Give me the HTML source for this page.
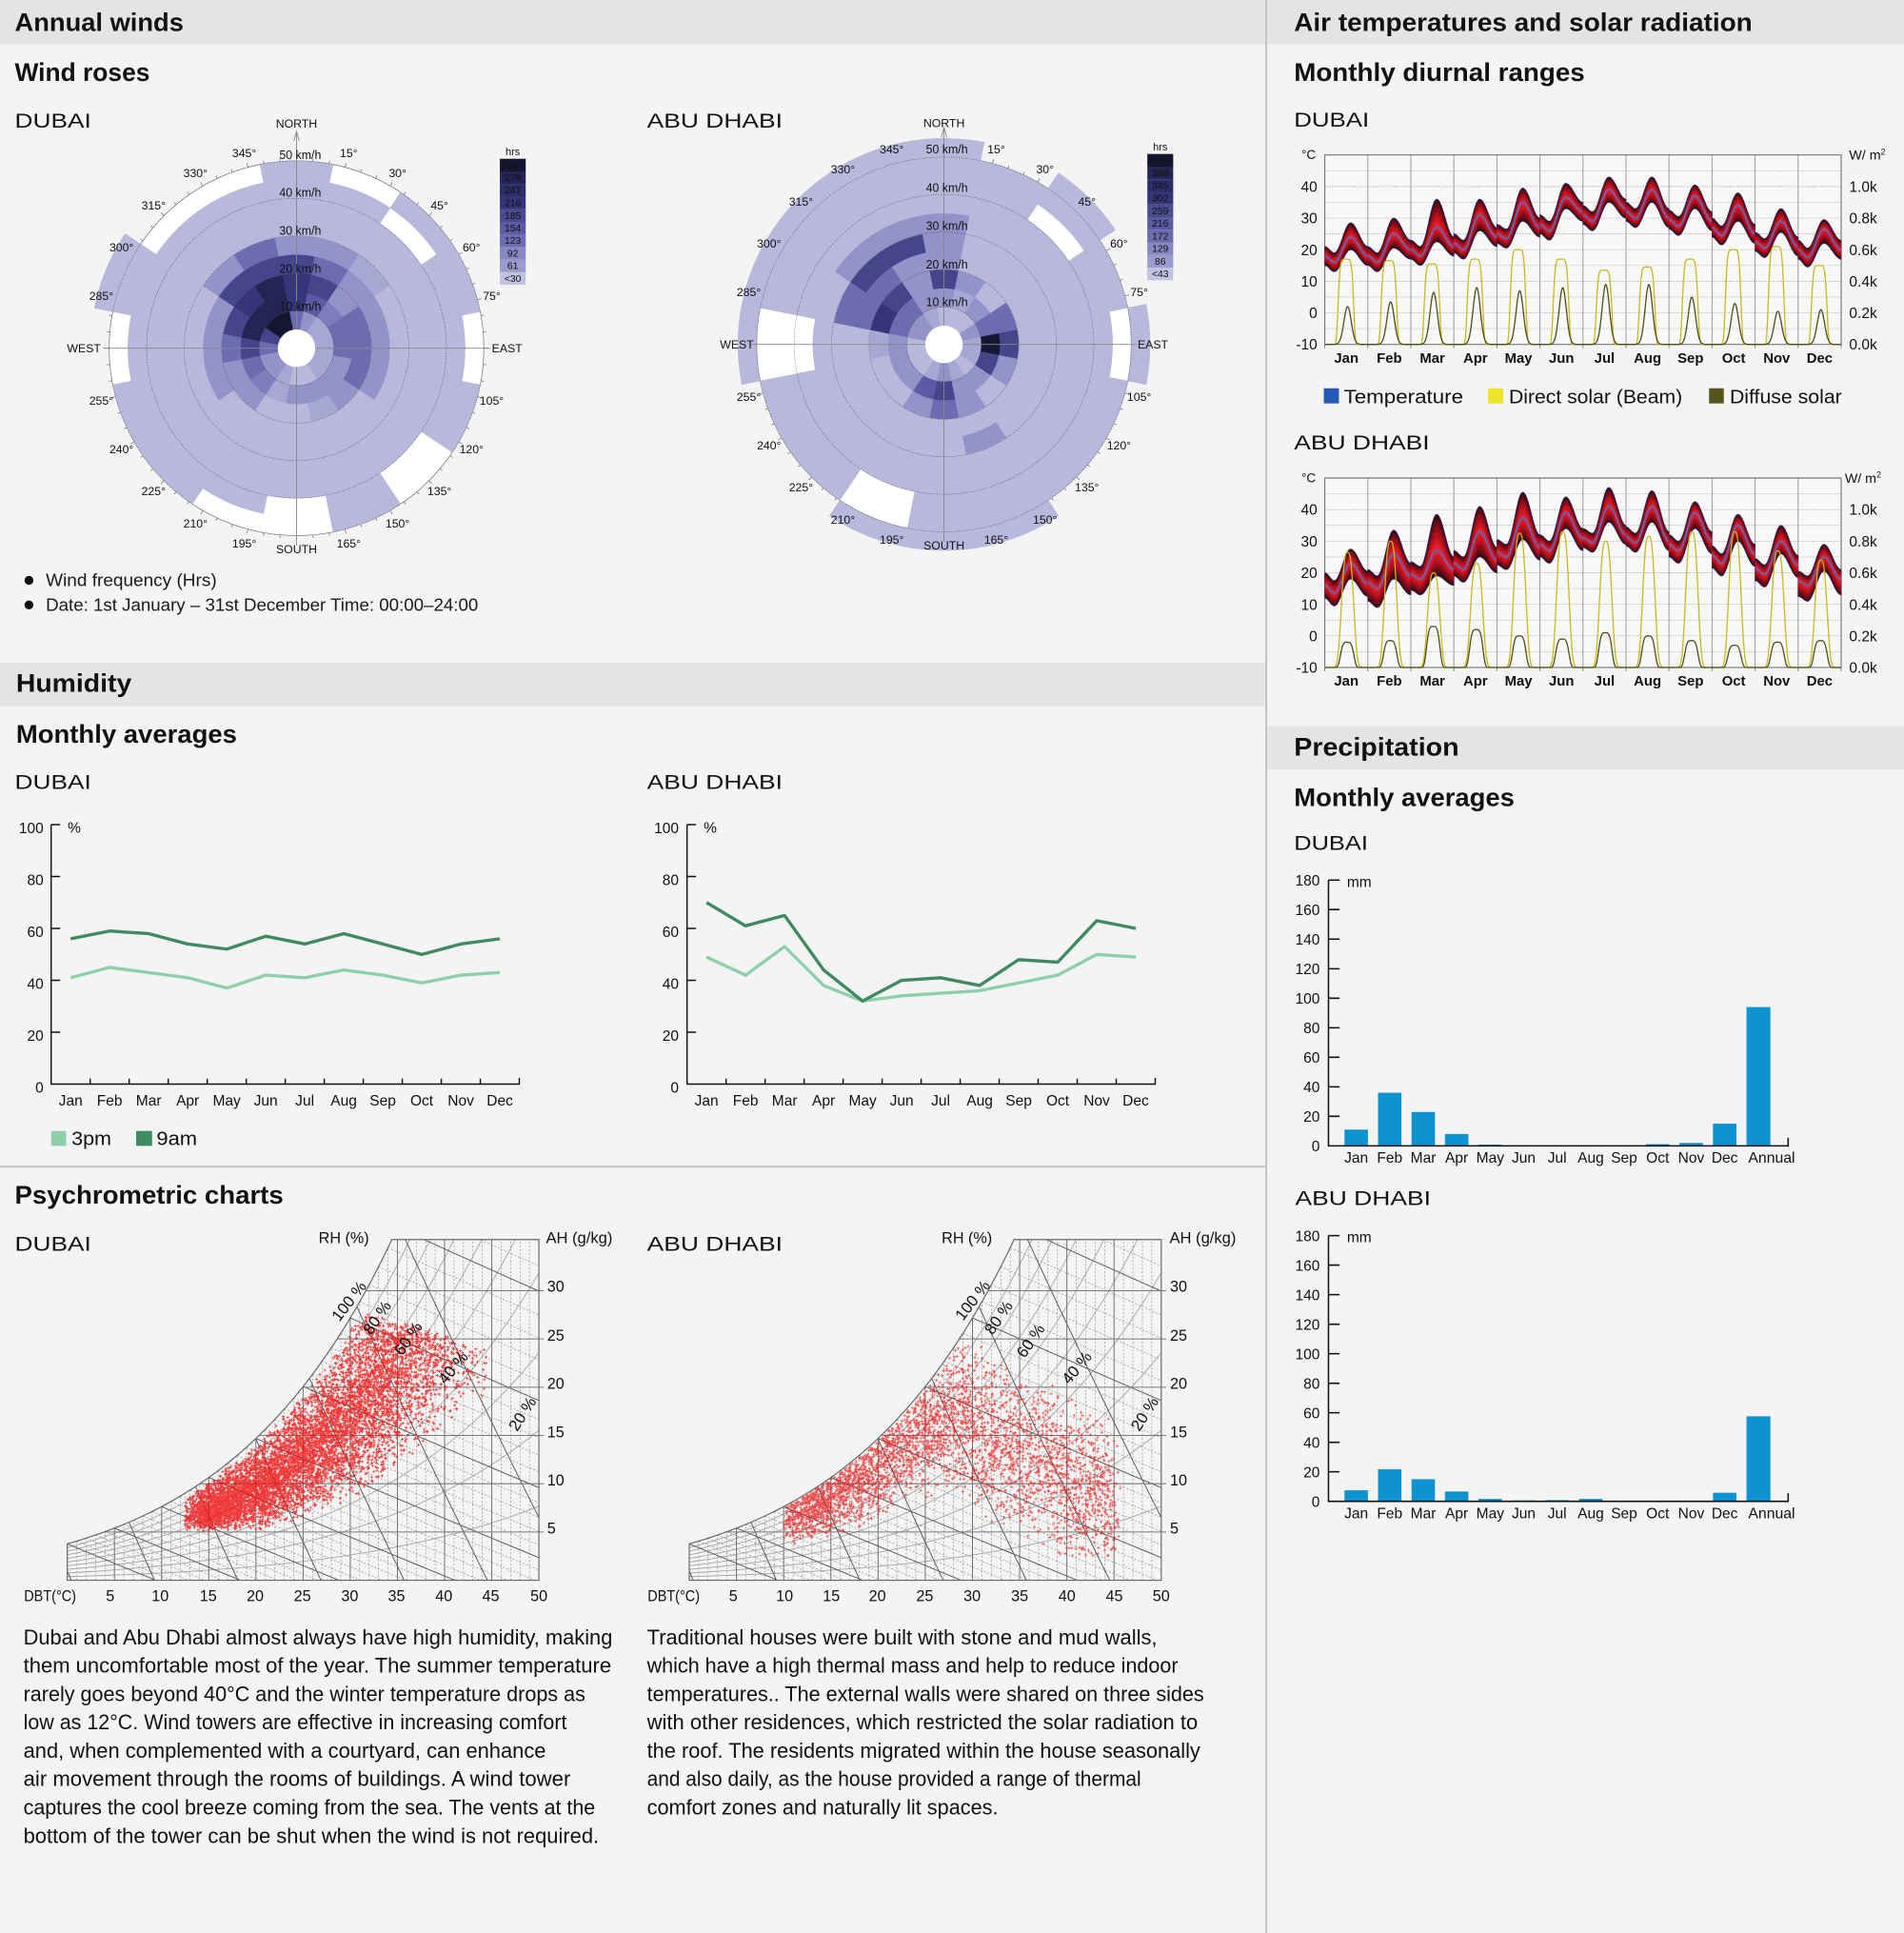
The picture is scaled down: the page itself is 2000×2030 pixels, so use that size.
<!DOCTYPE html>
<html><head><meta charset="utf-8"><title>Climate data</title>
<style>
html,body{margin:0;padding:0;background:#f4f4f4;}
svg{display:block;}
text{font-family:"Liberation Sans",Arial,sans-serif;fill:#111;}
.h1{font-size:20.5px;font-weight:bold;}
.h2{font-size:16.5px;}
.b{font-size:14px;fill:#1a1a1a;}
.p{font-size:17px;fill:#1a1a1a;}
.rl{font-size:9.5px;fill:#222;}
.km{font-size:10px;fill:#111;}
.lg{font-size:8px;fill:#fff;}
.ax{font-size:12px;fill:#111;}
.axb{font-size:11.5px;font-weight:bold;fill:#111;}
.lt{font-size:16px;fill:#111;}
.ps{font-size:12.5px;fill:#111;}
</style></head>
<body>
<svg id="s" xmlns="http://www.w3.org/2000/svg" width="2000" height="2030" viewBox="0 0 1545 1568.17" preserveAspectRatio="none">
<rect x="0" y="0" width="1545" height="1569" fill="#f4f4f4"/>
<rect x="0" y="0" width="1026.5" height="36" fill="#e4e4e2"/>
<rect x="1028.5" y="0" width="517" height="36" fill="#e4e4e2"/>
<rect x="0" y="537.7" width="1026.5" height="35.3" fill="#e4e4e2"/>
<rect x="1028.5" y="589" width="517" height="35" fill="#e4e4e2"/>
<path d="M1027.5,0V1569M0,946.5H1027" stroke="#c2c2c2" stroke-width="1.6" fill="none"/>

<!-- wind roses -->
<g id="r1" transform="translate(240.6,282.5)"></g>
<g id="r2" transform="translate(766,279.4)"></g>

<g transform="translate(240.6,282.5)" class="rl" text-anchor="middle">
<text x="0" y="-178.8">NORTH</text>
<text x="0" y="166.5">SOUTH</text>
<text x="-158.8" y="3.4" text-anchor="end">WEST</text>
<text x="158.5" y="3.4" text-anchor="start">EAST</text>
<text x="42.4" y="-155.1">15°</text><text x="82" y="-138.7">30°</text><text x="116" y="-112.7">45°</text><text x="142" y="-78.7">60°</text><text x="158.4" y="-39.1">75°</text>
<text x="158.4" y="45.7">105°</text><text x="142" y="85.3">120°</text><text x="116" y="119.3">135°</text><text x="82" y="145.3">150°</text><text x="42.4" y="161.7">165°</text>
<text x="-42.4" y="161.7">195°</text><text x="-82" y="145.3">210°</text><text x="-116" y="119.3">225°</text><text x="-142" y="85.3">240°</text><text x="-158.4" y="45.7">255°</text>
<text x="-158.4" y="-39.1">285°</text><text x="-142" y="-78.7">300°</text><text x="-116" y="-112.7">315°</text><text x="-82" y="-138.7">330°</text><text x="-42.4" y="-155.1">345°</text>
<g class="km"><text x="3" y="-153.5" textLength="34" lengthAdjust="spacingAndGlyphs">50 km/h</text><text x="3" y="-123" textLength="34" lengthAdjust="spacingAndGlyphs">40 km/h</text><text x="3" y="-92" textLength="34" lengthAdjust="spacingAndGlyphs">30 km/h</text><text x="3" y="-61" textLength="34" lengthAdjust="spacingAndGlyphs">20 km/h</text><text x="3" y="-30.5" textLength="34" lengthAdjust="spacingAndGlyphs">10 km/h</text></g>
</g>

<g transform="translate(766,279.4)" class="rl" text-anchor="middle">
<text x="0" y="-176.1">NORTH</text>
<text x="0" y="166.5">SOUTH</text>
<text x="-154.4" y="3.4" text-anchor="end">WEST</text>
<text x="157.1" y="3.4" text-anchor="start">EAST</text>
<text x="42.4" y="-155.1">15°</text><text x="82" y="-138.7">30°</text><text x="116" y="-112.7">45°</text><text x="142" y="-78.7">60°</text><text x="158.4" y="-39.1">75°</text>
<text x="158.4" y="45.7">105°</text><text x="142" y="85.3">120°</text><text x="116" y="119.3">135°</text><text x="82" y="145.3">150°</text><text x="42.4" y="161.7">165°</text>
<text x="-42.4" y="161.7">195°</text><text x="-82" y="145.3">210°</text><text x="-116" y="119.3">225°</text><text x="-142" y="85.3">240°</text><text x="-158.4" y="45.7">255°</text>
<text x="-158.4" y="-39.1">285°</text><text x="-142" y="-78.7">300°</text><text x="-116" y="-112.7">315°</text><text x="-82" y="-138.7">330°</text><text x="-42.4" y="-155.1">345°</text>
<g class="km"><text x="2.3" y="-154.9" textLength="34" lengthAdjust="spacingAndGlyphs">50 km/h</text><text x="2.3" y="-123.9" textLength="34" lengthAdjust="spacingAndGlyphs">40 km/h</text><text x="2.3" y="-92.8" textLength="34" lengthAdjust="spacingAndGlyphs">30 km/h</text><text x="2.3" y="-61.6" textLength="34" lengthAdjust="spacingAndGlyphs">20 km/h</text><text x="2.3" y="-30.9" textLength="34" lengthAdjust="spacingAndGlyphs">10 km/h</text></g>
</g>

<!-- rose legends -->
<g>
<text x="416.1" y="126" font-size="8.5" text-anchor="middle">hrs</text>
<rect x="405.6" y="128.8" width="21" height="10.3" fill="#161633"/>
<rect x="405.6" y="139" width="21" height="10.3" fill="#252555"/>
<rect x="405.6" y="149.2" width="21" height="10.3" fill="#2d2d6a"/>
<rect x="405.6" y="159.5" width="21" height="10.3" fill="#35357a"/>
<rect x="405.6" y="169.7" width="21" height="10.3" fill="#4a4a8e"/>
<rect x="405.6" y="179.9" width="21" height="10.3" fill="#5b5ba3"/>
<rect x="405.6" y="190.1" width="21" height="10.3" fill="#6c6cb0"/>
<rect x="405.6" y="200.4" width="21" height="10.3" fill="#8787c2"/>
<rect x="405.6" y="210.6" width="21" height="10.3" fill="#9a9acc"/>
<rect x="405.6" y="220.8" width="21" height="10.2" fill="#c2c2e2"/>
<g class="lg" text-anchor="middle">
<text x="416.1" y="136.6">309+</text><text x="416.1" y="146.8">278</text><text x="416.1" y="157">247</text><text x="416.1" y="167.3">216</text><text x="416.1" y="177.5">185</text><text x="416.1" y="187.7">154</text><text x="416.1" y="197.9">123</text><text x="416.1" y="208.2">92</text><text x="416.1" y="218.4">61</text><text x="416.1" y="228.6">&lt;30</text>
</g>
<text x="941.5" y="122" font-size="8.5" text-anchor="middle">hrs</text>
<rect x="931" y="124.9" width="21" height="10.3" fill="#161633"/>
<rect x="931" y="135.1" width="21" height="10.3" fill="#252555"/>
<rect x="931" y="145.4" width="21" height="10.3" fill="#2d2d6a"/>
<rect x="931" y="155.6" width="21" height="10.3" fill="#35357a"/>
<rect x="931" y="165.9" width="21" height="10.3" fill="#4a4a8e"/>
<rect x="931" y="176.1" width="21" height="10.3" fill="#5b5ba3"/>
<rect x="931" y="186.4" width="21" height="10.3" fill="#6c6cb0"/>
<rect x="931" y="196.6" width="21" height="10.3" fill="#8787c2"/>
<rect x="931" y="206.9" width="21" height="10.3" fill="#9a9acc"/>
<rect x="931" y="217.1" width="21" height="10.3" fill="#c2c2e2"/>
<g class="lg" text-anchor="middle">
<text x="941.5" y="132.7">432+</text><text x="941.5" y="142.9">388</text><text x="941.5" y="153.2">345</text><text x="941.5" y="163.4">302</text><text x="941.5" y="173.7">259</text><text x="941.5" y="183.9">216</text><text x="941.5" y="194.2">172</text><text x="941.5" y="204.4">129</text><text x="941.5" y="214.7">86</text><text x="941.5" y="224.9">&lt;43</text>
</g>
</g>

<!-- bullets -->
<circle cx="23.5" cy="470.8" r="3.6" fill="#111"/>
<circle cx="23.5" cy="490.8" r="3.6" fill="#111"/>
<text x="37.2" y="475.3" class="b" textLength="138.7" lengthAdjust="spacingAndGlyphs">Wind frequency (Hrs)</text>
<text x="37.2" y="495.5" class="b" textLength="350.8" lengthAdjust="spacingAndGlyphs">Date: 1st January – 31st December Time: 00:00–24:00</text>

<!-- humidity charts -->
<g fill="none" stroke-linejoin="round">
<polyline points="57.33,793.2 88.99,784.8 120.65,789.0 152.31,793.2 183.97,801.6 215.63,791.1 247.29,793.2 278.95,786.9 310.61,791.1 342.27,797.4 373.93,791.1 405.59,789.0" stroke="#8dd0ab" stroke-width="2.6"/>
<polyline points="57.33,761.6 88.99,755.3 120.65,757.4 152.31,765.8 183.97,770.0 215.63,759.5 247.29,765.8 278.95,757.4 310.61,765.8 342.27,774.3 373.93,765.8 405.59,761.6" stroke="#3f8a60" stroke-width="2.6"/>
<polyline points="573.33,776.4 604.99,791.1 636.65,767.9 668.31,799.5 699.97,812.1 731.63,807.9 763.29,805.8 794.95,803.7 826.61,797.4 858.27,791.1 889.93,774.3 921.59,776.4" stroke="#8dd0ab" stroke-width="2.6"/>
<polyline points="573.33,732.2 604.99,751.1 636.65,742.7 668.31,786.9 699.97,812.1 731.63,795.3 763.29,793.2 794.95,799.5 826.61,778.5 858.27,780.6 889.93,746.9 921.59,753.2" stroke="#3f8a60" stroke-width="2.6"/>
<path d="M41.5,669V879.5H421.4V874.5M41.5,669h7.3M41.5,711.1h7.3M41.5,753.2h7.3M41.5,795.3h7.3M41.5,837.4h7.3M73.16,879.5v-4.5M104.82,879.5v-4.5M136.48,879.5v-4.5M168.14,879.5v-4.5M199.8,879.5v-4.5M231.46,879.5v-4.5M263.12,879.5v-4.5M294.78,879.5v-4.5M326.44,879.5v-4.5M358.1,879.5v-4.5M389.76,879.5v-4.5" stroke="#111" stroke-width="1.1"/>
<path d="M557.5,669V879.5H937.4V874.5M557.5,669h7.3M557.5,711.1h7.3M557.5,753.2h7.3M557.5,795.3h7.3M557.5,837.4h7.3M589.16,879.5v-4.5M620.82,879.5v-4.5M652.48,879.5v-4.5M684.14,879.5v-4.5M715.8,879.5v-4.5M747.46,879.5v-4.5M779.12,879.5v-4.5M810.78,879.5v-4.5M842.44,879.5v-4.5M874.1,879.5v-4.5M905.76,879.5v-4.5" stroke="#111" stroke-width="1.1"/>
</g>
<g class="ax" text-anchor="end">
<text x="35.4" y="676">100</text><text x="35.4" y="718.1">80</text><text x="35.4" y="760.2">60</text><text x="35.4" y="802.3">40</text><text x="35.4" y="844.4">20</text><text x="35.4" y="886.5">0</text>
<text x="550.8" y="676">100</text><text x="550.8" y="718.1">80</text><text x="550.8" y="760.2">60</text><text x="550.8" y="802.3">40</text><text x="550.8" y="844.4">20</text><text x="550.8" y="886.5">0</text>
</g>
<text x="55" y="675.5" class="ax">%</text>
<text x="571" y="675.5" class="ax">%</text>
<g class="ax" text-anchor="middle">
<text x="57.33" y="897">Jan</text><text x="88.99" y="897">Feb</text><text x="120.65" y="897">Mar</text><text x="152.31" y="897">Apr</text><text x="183.97" y="897">May</text><text x="215.63" y="897">Jun</text><text x="247.29" y="897">Jul</text><text x="278.95" y="897">Aug</text><text x="310.61" y="897">Sep</text><text x="342.27" y="897">Oct</text><text x="373.93" y="897">Nov</text><text x="405.59" y="897">Dec</text>
<text x="573.33" y="897">Jan</text><text x="604.99" y="897">Feb</text><text x="636.65" y="897">Mar</text><text x="668.31" y="897">Apr</text><text x="699.97" y="897">May</text><text x="731.63" y="897">Jun</text><text x="763.29" y="897">Jul</text><text x="794.95" y="897">Aug</text><text x="826.61" y="897">Sep</text><text x="858.27" y="897">Oct</text><text x="889.93" y="897">Nov</text><text x="921.59" y="897">Dec</text>
</g>
<rect x="41.5" y="917.5" width="12.2" height="12.1" fill="#8dd0ab"/>
<text x="58" y="929" class="lt" textLength="32.4" lengthAdjust="spacingAndGlyphs">3pm</text>
<rect x="110.5" y="917.5" width="12.9" height="12.1" fill="#3f8a60"/>
<text x="127" y="929" class="lt" textLength="33" lengthAdjust="spacingAndGlyphs">9am</text>

<!-- psychrometric charts -->
<g id="p1"></g>
<g id="p2"></g>
<g class="ps">
<text x="279" y="1008.5" text-anchor="middle">RH (%)</text>
<text x="443" y="1008.5" textLength="54" lengthAdjust="spacingAndGlyphs">AH (g/kg)</text>
<text x="444" y="1047.9">30</text><text x="444" y="1087.6">25</text><text x="444" y="1126.8">20</text><text x="444" y="1165.9">15</text><text x="444" y="1205">10</text><text x="444" y="1244.2">5</text>
<text x="19.5" y="1298.8" textLength="42.3" lengthAdjust="spacingAndGlyphs">DBT(°C)</text>
<g text-anchor="middle"><text x="89.4" y="1298.8">5</text><text x="130" y="1298.8">10</text><text x="169" y="1298.8">15</text><text x="207" y="1298.8">20</text><text x="245.4" y="1298.8">25</text><text x="283.8" y="1298.8">30</text><text x="321.8" y="1298.8">35</text><text x="360.2" y="1298.8">40</text><text x="398.2" y="1298.8">45</text><text x="437.3" y="1298.8">50</text></g>
<g text-anchor="middle" font-size="13">
<text transform="translate(283.5,1055.8) rotate(-52)" dy="4">100 %</text>
<text transform="translate(306.3,1069.1) rotate(-55)" dy="4">80 %</text>
<text transform="translate(331.6,1086.1) rotate(-55)" dy="4">60 %</text>
<text transform="translate(368,1109.8) rotate(-50)" dy="4">40 %</text>
<text transform="translate(424.3,1147.2) rotate(-57)" dy="4">20 %</text>
</g>
<text x="784.6" y="1008.5" text-anchor="middle">RH (%)</text>
<text x="949" y="1008.5" textLength="54" lengthAdjust="spacingAndGlyphs">AH (g/kg)</text>
<text x="949.4" y="1047.9">30</text><text x="949.4" y="1087.6">25</text><text x="949.4" y="1126.8">20</text><text x="949.4" y="1165.9">15</text><text x="949.4" y="1205">10</text><text x="949.4" y="1244.2">5</text>
<text x="525.5" y="1298.8" textLength="42.3" lengthAdjust="spacingAndGlyphs">DBT(°C)</text>
<g text-anchor="middle"><text x="595" y="1298.8">5</text><text x="636.6" y="1298.8">10</text><text x="674.6" y="1298.8">15</text><text x="712" y="1298.8">20</text><text x="750.4" y="1298.8">25</text><text x="788.8" y="1298.8">30</text><text x="827.5" y="1298.8">35</text><text x="865.8" y="1298.8">40</text><text x="904.2" y="1298.8">45</text><text x="942.3" y="1298.8">50</text></g>
<g text-anchor="middle" font-size="13">
<text transform="translate(789.5,1055.2) rotate(-52)" dy="4">100 %</text>
<text transform="translate(810.6,1069.1) rotate(-55)" dy="4">80 %</text>
<text transform="translate(836.6,1087.9) rotate(-55)" dy="4">60 %</text>
<text transform="translate(874,1109.8) rotate(-50)" dy="4">40 %</text>
<text transform="translate(929.2,1147.2) rotate(-57)" dy="4">20 %</text>
</g>
</g>

<!-- temperature charts -->
<g id="t1"></g>
<g id="t2"></g>
<g class="ax" text-anchor="end">
<text x="1069" y="155.6">40</text><text x="1069" y="181.2">30</text><text x="1069" y="206.9">20</text><text x="1069" y="232.5">10</text><text x="1069" y="258.1">0</text><text x="1069" y="283.7">-10</text>
<text x="1069" y="417.7">40</text><text x="1069" y="443.3">30</text><text x="1069" y="469">20</text><text x="1069" y="494.6">10</text><text x="1069" y="520.2">0</text><text x="1069" y="545.8">-10</text>
</g>
<g class="ax">
<text x="1500.5" y="155.6">1.0k</text><text x="1500.5" y="181.2">0.8k</text><text x="1500.5" y="206.9">0.6k</text><text x="1500.5" y="232.5">0.4k</text><text x="1500.5" y="258.1">0.2k</text><text x="1500.5" y="283.7">0.0k</text>
<text x="1500.5" y="417.7">1.0k</text><text x="1500.5" y="443.3">0.8k</text><text x="1500.5" y="469">0.6k</text><text x="1500.5" y="494.6">0.4k</text><text x="1500.5" y="520.2">0.2k</text><text x="1500.5" y="545.8">0.0k</text>
<text x="1056" y="129" font-size="10.5">°C</text>
<text x="1056" y="391.1" font-size="10.5">°C</text>
<text x="1500.5" y="129.5" font-size="11">W/ m<tspan dy="-4" font-size="7">2</tspan></text>
<text x="1497" y="391.6" font-size="11">W/ m<tspan dy="-4" font-size="7">2</tspan></text>
</g>
<g class="axb" text-anchor="middle">
<text x="1092.5" y="294.2">Jan</text><text x="1127.4" y="294.2">Feb</text><text x="1162.3" y="294.2">Mar</text><text x="1197.2" y="294.2">Apr</text><text x="1232.2" y="294.2">May</text><text x="1267.1" y="294.2">Jun</text><text x="1302" y="294.2">Jul</text><text x="1336.9" y="294.2">Aug</text><text x="1371.8" y="294.2">Sep</text><text x="1406.8" y="294.2">Oct</text><text x="1441.7" y="294.2">Nov</text><text x="1476.6" y="294.2">Dec</text>
<text x="1092.5" y="556.3">Jan</text><text x="1127.4" y="556.3">Feb</text><text x="1162.3" y="556.3">Mar</text><text x="1197.2" y="556.3">Apr</text><text x="1232.2" y="556.3">May</text><text x="1267.1" y="556.3">Jun</text><text x="1302" y="556.3">Jul</text><text x="1336.9" y="556.3">Aug</text><text x="1371.8" y="556.3">Sep</text><text x="1406.8" y="556.3">Oct</text><text x="1441.7" y="556.3">Nov</text><text x="1476.6" y="556.3">Dec</text>
</g>
<rect x="1074.2" y="315" width="12.3" height="12.3" fill="#2659b5"/>
<text x="1090.4" y="327" class="lt" textLength="97" lengthAdjust="spacingAndGlyphs">Temperature</text>
<rect x="1207.4" y="315" width="12.3" height="12.3" fill="#eee42a"/>
<text x="1224.4" y="327" class="lt" textLength="140.7" lengthAdjust="spacingAndGlyphs">Direct solar (Beam)</text>
<rect x="1386.8" y="315" width="12" height="12.3" fill="#55551e"/>
<text x="1403.6" y="327" class="lt" textLength="91" lengthAdjust="spacingAndGlyphs">Diffuse solar</text>

<!-- precipitation -->
<g fill="#0e92d0">
<rect x="1091" y="916.4" width="19" height="13.2"/><rect x="1118.2" y="886.5" width="19" height="43.1"/><rect x="1145.4" y="902.1" width="19" height="27.5"/><rect x="1172.5" y="920" width="19" height="9.6"/><rect x="1199.7" y="928.6" width="19" height="1"/><rect x="1335.6" y="928.2" width="19" height="1.4"/><rect x="1362.8" y="927.2" width="19" height="2.4"/><rect x="1390" y="911.6" width="19" height="18"/><rect x="1417.2" y="817" width="19.4" height="112.6"/>
<rect x="1091" y="1209" width="19" height="9"/><rect x="1118.2" y="1192" width="19" height="26"/><rect x="1145.4" y="1200" width="19" height="18"/><rect x="1172.5" y="1210" width="19" height="8"/><rect x="1199.7" y="1216" width="19" height="2"/><rect x="1226.9" y="1217.3" width="19" height="0.7"/><rect x="1254.1" y="1217" width="19" height="1"/><rect x="1281.3" y="1216" width="19" height="2"/><rect x="1390" y="1211" width="19" height="7"/><rect x="1417.2" y="1149" width="19.4" height="69"/>
</g>
<path d="M1078,714V929.6H1451V923M1078,714h9M1078,737.9h9M1078,761.9h9M1078,785.9h9M1078,809.8h9M1078,833.8h9M1078,857.7h9M1078,881.7h9M1078,905.6h9" stroke="#111" stroke-width="1.2" fill="none"/>
<path d="M1078,1002.4V1218H1451V1211.4M1078,1002.4h9M1078,1026.3h9M1078,1050.3h9M1078,1074.3h9M1078,1098.2h9M1078,1122.2h9M1078,1146.1h9M1078,1170.1h9M1078,1194h9" stroke="#111" stroke-width="1.2" fill="none"/>
<g class="ax" text-anchor="end" font-size="12.5">
<text x="1071" y="718.5">180</text><text x="1071" y="742.4">160</text><text x="1071" y="766.4">140</text><text x="1071" y="790.4">120</text><text x="1071" y="814.3">100</text><text x="1071" y="838.3">80</text><text x="1071" y="862.2">60</text><text x="1071" y="886.2">40</text><text x="1071" y="910.1">20</text><text x="1071" y="934.1">0</text>
<text x="1071" y="1006.9">180</text><text x="1071" y="1030.8">160</text><text x="1071" y="1054.8">140</text><text x="1071" y="1078.8">120</text><text x="1071" y="1102.7">100</text><text x="1071" y="1126.7">80</text><text x="1071" y="1150.6">60</text><text x="1071" y="1174.6">40</text><text x="1071" y="1198.5">20</text><text x="1071" y="1222.5">0</text>
</g>
<text x="1093" y="719.5" class="ax" font-size="12.5">mm</text>
<text x="1093" y="1007.9" class="ax" font-size="12.5">mm</text>
<g class="ax" text-anchor="middle" font-size="11.5">
<text x="1100.5" y="943.2">Jan</text><text x="1127.7" y="943.2">Feb</text><text x="1154.9" y="943.2">Mar</text><text x="1182" y="943.2">Apr</text><text x="1209.2" y="943.2">May</text><text x="1236.4" y="943.2">Jun</text><text x="1263.6" y="943.2">Jul</text><text x="1290.8" y="943.2">Aug</text><text x="1317.9" y="943.2">Sep</text><text x="1345.1" y="943.2">Oct</text><text x="1372.3" y="943.2">Nov</text><text x="1399.5" y="943.2">Dec</text>
<text x="1100.5" y="1231.6">Jan</text><text x="1127.7" y="1231.6">Feb</text><text x="1154.9" y="1231.6">Mar</text><text x="1182" y="1231.6">Apr</text><text x="1209.2" y="1231.6">May</text><text x="1236.4" y="1231.6">Jun</text><text x="1263.6" y="1231.6">Jul</text><text x="1290.8" y="1231.6">Aug</text><text x="1317.9" y="1231.6">Sep</text><text x="1345.1" y="1231.6">Oct</text><text x="1372.3" y="1231.6">Nov</text><text x="1399.5" y="1231.6">Dec</text>
</g>
<text x="1418.6" y="943.2" class="ax" font-size="11.5" textLength="38" lengthAdjust="spacingAndGlyphs">Annual</text>
<text x="1418.6" y="1231.6" class="ax" font-size="11.5" textLength="38" lengthAdjust="spacingAndGlyphs">Annual</text>

<!-- headings -->
<text x="12" y="25" class="h1" textLength="137" lengthAdjust="spacingAndGlyphs">Annual winds</text>
<text x="12" y="65.7" class="h1" textLength="109.6" lengthAdjust="spacingAndGlyphs">Wind roses</text>
<text x="12" y="103.5" class="h2" textLength="62" lengthAdjust="spacingAndGlyphs">DUBAI</text>
<text x="525" y="103.5" class="h2" textLength="110" lengthAdjust="spacingAndGlyphs">ABU DHABI</text>
<text x="13" y="561.3" class="h1" textLength="93.8" lengthAdjust="spacingAndGlyphs">Humidity</text>
<text x="13" y="602.5" class="h1" textLength="179.3" lengthAdjust="spacingAndGlyphs">Monthly averages</text>
<text x="12" y="639.9" class="h2" textLength="62" lengthAdjust="spacingAndGlyphs">DUBAI</text>
<text x="525" y="639.9" class="h2" textLength="110" lengthAdjust="spacingAndGlyphs">ABU DHABI</text>
<text x="12" y="976.5" class="h1" textLength="218" lengthAdjust="spacingAndGlyphs">Psychrometric charts</text>
<text x="12" y="1014.5" class="h2" textLength="62" lengthAdjust="spacingAndGlyphs">DUBAI</text>
<text x="525" y="1014.5" class="h2" textLength="110" lengthAdjust="spacingAndGlyphs">ABU DHABI</text>
<text x="1050" y="25" class="h1" textLength="372" lengthAdjust="spacingAndGlyphs">Air temperatures and solar radiation</text>
<text x="1050" y="65.7" class="h1" textLength="236" lengthAdjust="spacingAndGlyphs">Monthly diurnal ranges</text>
<text x="1050" y="102.8" class="h2" textLength="61" lengthAdjust="spacingAndGlyphs">DUBAI</text>
<text x="1050" y="364.5" class="h2" textLength="110" lengthAdjust="spacingAndGlyphs">ABU DHABI</text>
<text x="1050" y="613" class="h1" textLength="134" lengthAdjust="spacingAndGlyphs">Precipitation</text>
<text x="1050" y="654" class="h1" textLength="179" lengthAdjust="spacingAndGlyphs">Monthly averages</text>
<text x="1050" y="689.5" class="h2" textLength="60" lengthAdjust="spacingAndGlyphs">DUBAI</text>
<text x="1051" y="977.5" class="h2" textLength="110" lengthAdjust="spacingAndGlyphs">ABU DHABI</text>

<!-- paragraphs -->
<g class="p">
<text x="19" y="1334" textLength="478" lengthAdjust="spacingAndGlyphs">Dubai and Abu Dhabi almost always have high humidity, making</text>
<text x="19" y="1357" textLength="477" lengthAdjust="spacingAndGlyphs">them uncomfortable most of the year. The summer temperature</text>
<text x="19" y="1380" textLength="456" lengthAdjust="spacingAndGlyphs">rarely goes beyond 40°C and the winter temperature drops as</text>
<text x="19" y="1403" textLength="441" lengthAdjust="spacingAndGlyphs">low as 12°C. Wind towers are effective in increasing comfort</text>
<text x="19" y="1426" textLength="424" lengthAdjust="spacingAndGlyphs">and, when complemented with a courtyard, can enhance</text>
<text x="19" y="1449" textLength="444" lengthAdjust="spacingAndGlyphs">air movement through the rooms of buildings. A wind tower</text>
<text x="19" y="1472" textLength="464" lengthAdjust="spacingAndGlyphs">captures the cool breeze coming from the sea. The vents at the</text>
<text x="19" y="1495" textLength="467" lengthAdjust="spacingAndGlyphs">bottom of the tower can be shut when the wind is not required.</text>
<text x="525" y="1334" textLength="414" lengthAdjust="spacingAndGlyphs">Traditional houses were built with stone and mud walls,</text>
<text x="525" y="1357" textLength="431" lengthAdjust="spacingAndGlyphs">which have a high thermal mass and help to reduce indoor</text>
<text x="525" y="1380" textLength="452" lengthAdjust="spacingAndGlyphs">temperatures.. The external walls were shared on three sides</text>
<text x="525" y="1403" textLength="447" lengthAdjust="spacingAndGlyphs">with other residences, which restricted the solar radiation to</text>
<text x="525" y="1426" textLength="449" lengthAdjust="spacingAndGlyphs">the roof. The residents migrated within the house seasonally</text>
<text x="525" y="1449" textLength="401" lengthAdjust="spacingAndGlyphs">and also daily, as the house provided a range of thermal</text>
<text x="525" y="1472" textLength="285" lengthAdjust="spacingAndGlyphs">comfort zones and naturally lit spaces.</text>
</g>
</svg>

<script>
(function(){
var NS="http://www.w3.org/2000/svg";
function E(t,a,p){var e=document.createElementNS(NS,t);for(var k in a)e.setAttribute(k,a[k]);if(p)p.appendChild(e);return e;}
function $(i){return document.getElementById(i);}
function f(v){return (Math.round(v*100)/100).toString();}

/* ---------------- wind roses ---------------- */
var K=3.04;
var LV=[null,'#b8b8dc','#a7a7d4','#9393c9','#7e7ebc','#6c6cb0','#5b5ba3','#45458c','#35357a','#252555','#161633'];
function P(r,a){var t=(a-90)*Math.PI/180;return f(r*Math.cos(t))+','+f(r*Math.sin(t));}
function arc(r1,r2,a1,a2){return 'M'+P(r2,a1)+'A'+f(r2)+','+f(r2)+' 0 0 1 '+P(r2,a2)+'L'+P(r1,a2)+'A'+f(r1)+','+f(r1)+' 0 0 0 '+P(r1,a1)+'Z';}
function rose(id,data){
 var g=$(id),R=K*50,d='',a,i,b,v;
 E('circle',{r:R,fill:'#fff'},g);
 for(a=0;a<360;a+=5){d+='M'+P(R,a)+'L'+P(R+(a%15?2.5:3.5),a);}
 E('path',{d:d,stroke:'#777','stroke-width':0.6,fill:'none'},g);
 E('circle',{r:R,fill:'none',stroke:'#999','stroke-width':0.6},g);
 for(i=0;i<16;i++){var c=i*22.5;for(b=0;b<10;b++){var lv=data[i][b];if(!lv)continue;
  E('path',{d:arc(K*5*(b+1),K*5*(b+2),c-11.25,c+11.25),fill:LV[lv],stroke:LV[lv],'stroke-width':0.4},g);}}
 for(v=10;v<=50;v+=10)E('circle',{r:K*v,fill:'none',stroke:'#444','stroke-width':0.45,'stroke-dasharray':'0.8 1.2'},g);
 E('path',{d:'M-157,0H157M0,160V-176M-2.2,-168L0,-176L2.2,-168',stroke:'#888','stroke-width':0.7,fill:'none'},g);
 E('circle',{r:K*5,fill:'#fff'},g);
}
rose('r1',[
 [5,8,8,7,3,1,1,1,1,0],
 [3,6,7,5,3,1,1,1,0,0],
 [2,4,3,3,2,1,1,0,1,0],
 [2,5,5,3,1,1,1,1,1,0],
 [2,5,5,3,1,1,1,1,0,0],
 [2,3,5,3,1,1,1,1,1,0],
 [2,3,3,1,1,1,1,0,0,0],
 [1,3,2,1,1,1,1,1,1,0],
 [1,3,1,1,1,1,1,0,0,0],
 [2,2,1,1,1,1,1,1,0,0],
 [3,4,3,1,1,1,1,1,1,0],
 [3,5,3,3,1,1,1,1,1,0],
 [5,7,5,3,1,1,1,1,0,0],
 [7,9,7,3,1,1,1,1,1,1],
 [10,9,8,7,3,1,1,1,0,0],
 [10,9,9,7,5,1,1,1,0,0]
]);
rose('r2',[
 [1,3,7,3,3,3,1,1,1,1],
 [1,2,3,1,1,1,1,1,1,0],
 [1,3,1,1,1,1,1,0,1,1],
 [3,5,5,1,1,1,1,1,1,0],
 [2,10,7,1,1,1,1,1,0,1],
 [2,7,3,1,1,1,1,1,1,0],
 [1,3,1,1,1,1,1,1,1,0],
 [2,3,3,1,3,1,1,1,1,1],
 [3,7,5,1,1,1,1,1,1,1],
 [2,6,3,1,1,1,1,0,0,1],
 [1,3,1,1,1,1,1,1,1,0],
 [1,3,1,1,1,1,1,1,1,0],
 [1,3,2,1,1,1,0,0,0,1],
 [3,5,8,5,5,1,1,1,1,1],
 [3,5,7,5,7,3,1,1,1,1],
 [2,3,3,3,7,3,1,1,1,1]
]);

/* ---------------- temperature charts ---------------- */
function tchart(gid,y0,M,DIR,DIF,dirFn,difFn){
 var g=$(gid),x0=1075,x1=1494,w=(x1-x0)/12,i,m,d,T;
 function yT(T){return y0-(T+10)*2.5617;}
 var top=yT(50);
 E('rect',{x:x0,y:f(top),width:x1-x0,height:f(y0-top),fill:'#f8f8f8'},g);
 d='';for(T=-5;T<50;T+=5)d+='M'+x0+','+f(yT(T))+'H'+x1;
 E('path',{d:d,stroke:'#9a9a9a','stroke-width':0.5,'stroke-dasharray':'1 1',fill:'none'},g);
 d='';for(m=1;m<12;m++)d+='M'+f(x0+m*w)+','+f(top)+'V'+f(y0);
 E('path',{d:d,stroke:'#9a9a9a','stroke-width':0.75,fill:'none'},g);
 d='';for(m=0;m<=12;m++)d+='M'+f(x0+m*w)+','+f(y0)+'v3';
 E('path',{d:d,stroke:'#777','stroke-width':0.7,fill:'none'},g);
 E('path',{d:'M'+x0+','+f(top)+'H'+x1+'V'+f(y0)+'H'+x0+'Z',stroke:'#777','stroke-width':0.9,fill:'none'},g);
 var layers=[[1,'#3b0a12'],[0.86,'#640b15'],[0.7,'#8c0d18'],[0.52,'#b2111d'],[0.34,'#cf1723'],[0.16,'#e2232d']];
 function cs(a,b,t){return a+(b-a)*(1-Math.cos(Math.PI*t))/2;}
 function sg(h,a,b,c,e){if(h<0.22)return cs(a,b,h/0.22);if(h<0.6)return cs(b,c,(h-0.22)/0.38);return cs(c,e,(h-0.6)/0.4);}
 for(m=0;m<12;m++){
  var q=M[m],pts=[],N=40;
  for(i=0;i<=N;i++){var h=i/N;pts.push([x0+(m+h)*w,sg(h,q[0],q[1],q[2],q[3]),sg(h,q[6],q[6],q[4],q[6]),sg(h,q[7],q[7],q[5],q[7])]);}
  for(var L=0;L<layers.length;L++){var fr=layers[L][0];d='';
   for(i=0;i<=N;i++)d+=(i?'L':'M')+f(pts[i][0])+','+f(yT(pts[i][1]+fr*pts[i][2]));
   for(i=N;i>=0;i--)d+='L'+f(pts[i][0])+','+f(yT(pts[i][1]-fr*pts[i][3]));
   d+='Z';var at={d:d,fill:layers[L][1]};if(!L){at.stroke='#2a2a70';at['stroke-width']=0.6;}E('path',at,g);}
  d='';for(i=0;i<=N;i++)d+=(i?'L':'M')+f(pts[i][0])+','+f(yT(pts[i][1]));
  E('path',{d:d,stroke:'#3f74d6','stroke-width':1.1,fill:'none'},g);
 }
 function sol(A,fn,col,sw){var s='';for(var mm=0;mm<12;mm++)for(var j=0;j<=60;j++){var hh=j/60;s+=((mm||j)?'L':'M')+f(x0+(mm+hh)*w)+','+f(yT(-10+(A[mm]+10)*fn(hh)));}
  E('path',{d:s,stroke:col,'stroke-width':sw,fill:'none','stroke-linejoin':'round'},g);}
 sol(DIR,dirFn,'#c9b81c',1);
 sol(DIF,difFn,'#4d4d1c',1);
}
tchart('t1',279.4,[
 [18,16,24,18,4.5,4,3,3],
 [18,16,25,20,5,4.5,3,3],
 [20,18,27,21,9,4.5,3,3],
 [22,20,31,24,5,5,3,3],
 [25,23.5,35,27,4.5,6,3,3],
 [28,26,36.5,32,4.5,3.5,3,3],
 [31,29,39,33,4,4,3,3],
 [32,30,39,30,4,4,3,3],
 [29.5,27.5,37,29,3.5,4,3,3],
 [27,24.5,34,25,4,5,3,3],
 [22.5,20.5,29,21,4,3.5,3,3],
 [20,17.5,26.5,20,3,4.5,3,3]
],[17,16.5,15.5,17,20,17,13.5,14.5,17,20,21,15],[2,3.5,6.5,8,7,8,9,9,5,3,0.5,1],
 function(h){return Math.exp(-Math.pow(Math.abs(h-0.49)/0.19,6));},
 function(h){return Math.exp(-Math.pow((h-0.53)/0.12,2));});
tchart('t2',541.5,[
 [16,13.5,23,16.5,4.5,5,4,4],
 [17,15,26,19,7.5,8,4,6],
 [19.5,18,27,21,11.5,8,4,5],
 [23,21,33,24,8,8,4,4],
 [26.5,25,37.5,28,8,7,4,4],
 [29,27,39,31,5,5,3,4],
 [31,29.5,41,32,6,5,3,3],
 [31.5,29.5,41,30,5,5,3,3],
 [29,27,39,30,3.5,5,3,4],
 [25.5,23,35,26,3.5,5,3,4],
 [21.5,19.5,30,22.5,5,4,3,4],
 [17.5,16,25,18,4,4.5,3,5]
],[26.5,30,20,23,32.5,33,30,31.5,33,33,27,24],[-2,-1.5,3,2,0,-1,1,0,-1.5,-3,-2,-1.5],
 function(h){return Math.exp(-Math.pow(Math.abs(h-0.53)/0.17,3));},
 function(h){return Math.exp(-Math.pow(Math.abs(h-0.52)/0.17,4));});

/* ---------------- psychrometric charts ---------------- */
function pws(T){return 0.61078*Math.exp(17.27*T/(T+237.3));}
function Ws(T,rh){var p=(rh||1)*pws(T);return 622*p/(101.325-p);}
function Wwb(T,Tw){var ws=Ws(Tw)/1000;return 1000*((2501-2.326*Tw)*ws-1.006*(T-Tw))/(2501+1.86*T-4.186*Tw);}
function rng(seed){return function(){seed|=0;seed=seed+0x6D2B79F5|0;var t=Math.imul(seed^seed>>>15,1|seed);t=t+Math.imul(t^t>>>7,61|t)^t;return((t^t>>>14)>>>0)/4294967296;};}
function psych(gid,X0,sc,seed,n,model,op){
 var g=$(gid),i,T,W,d;
 function X(T){return X0+T*sc;} function Y(W){return 1282-W*7.83;}
 var WT=35.3,lo=0,hi=50;
 for(i=0;i<40;i++){var m=(lo+hi)/2;if(Ws(m)<WT)lo=m;else hi=m;}
 var Tt=lo;
 var ol='M'+f(X(0))+','+f(Y(0))+'L'+f(X(0))+','+f(Y(Ws(0)));
 for(T=0.5;T<Tt;T+=0.5)ol+='L'+f(X(T))+','+f(Y(Ws(T)));
 ol+='L'+f(X(Tt))+','+f(Y(WT))+'L'+f(X(50))+','+f(Y(WT))+'L'+f(X(50))+','+f(Y(0))+'Z';
 var cp=E('clipPath',{id:gid+'c'},g);E('path',{d:ol},cp);
 var gc=E('g',{'clip-path':'url(#'+gid+'c)'},g);
 function wb(Tw){var s='M'+f(X(Tw))+','+f(Y(Wwb(Tw,Tw)));for(var t=Tw+2;t<50;t+=2)s+='L'+f(X(t))+','+f(Y(Wwb(t,Tw)));s+='L'+f(X(50))+','+f(Y(Wwb(50,Tw)));return s;}
 d='';for(T=1;T<50;T++){if(T%5==0)continue;d+='M'+f(X(T))+','+f(Y(0))+'V'+f(Y(Math.min(Ws(T),WT)));}
 for(T=1;T<42;T++){if(T%5==0)continue;d+=wb(T);}
 E('path',{d:d,stroke:'#8c8c8c','stroke-width':0.5,'stroke-dasharray':'1.6 1.4',fill:'none'},gc);
 d='';for(var r=1;r<10;r++){d+='M'+f(X(0))+','+f(Y(Ws(0,r/10)));for(T=1;T<=50;T++)d+='L'+f(X(T))+','+f(Y(Ws(T,r/10)));}
 E('path',{d:d,stroke:'#a5a5a5','stroke-width':0.7,fill:'none'},gc);
 d='';for(T=5;T<50;T+=5)d+='M'+f(X(T))+','+f(Y(0))+'V'+f(Y(Math.min(Ws(T),WT)));
 E('path',{d:d,stroke:'#6e6e6e','stroke-width':0.75,fill:'none'},gc);
 d='';for(T=0;T<=35;T+=5)d+=wb(T);
 for(var v=0.775;v<0.94;v+=0.025){for(W=0;W<=36;W+=2){var t2=v*101.325/(0.287042*(1+1.6078*W/1000))-273.15;d+=(W?'L':'M')+f(X(t2))+','+f(Y(W));}}
 E('path',{d:d,stroke:'#5a5a5a','stroke-width':0.75,fill:'none'},gc);
 d='';for(W=5;W<=30;W+=5){var a=0,b2=50;for(i=0;i<40;i++){var mm=(a+b2)/2;if(Ws(mm)<W)a=mm;else b2=mm;}d+='M'+f(X(a))+','+f(Y(W))+'H'+f(X(50)+4);}
 E('path',{d:d,stroke:'#7a7a7a','stroke-width':0.8,fill:'none'},g);
 var gc2=E('g',{'clip-path':'url(#'+gid+'c)'},g);
 var R=rng(seed);d='';
 for(i=0;i<n;i++){var pt=model(R);if(pt[1]<2.5)continue;var x=X(pt[0]),y=Y(pt[1]);
  d+='M'+f(x-1.2)+','+f(y)+'h2.4M'+f(x)+','+f(y-1.2)+'v2.4';}
 E('path',{d:d,stroke:'#f01010','stroke-width':0.6,'stroke-opacity':op,fill:'none'},gc2);
 E('path',{d:ol,stroke:'#666','stroke-width':0.9,fill:'none'},g);
}
psych('p1',54.6,7.654,7,10000,function(R){
 var T=12.5+32*Math.pow(R(),1.15);
 if(T<14.5&&R()<(14.5-T)/2.5)return [T,0];
 var rh=0.32+0.65*(R()+R())/2;
 var W=Ws(T,rh);
 var top=T<32?28:28-0.3*(T-32);
 if(W>top-1.5*R())return [T,0];
 if(W<5+1.6*R())return [T,0];
 return [T,W];},0.8);
psych('p2',559.3,7.66,11,3900,function(R){
 var T=10+36*Math.pow(R(),1.2);
 if(T<13&&R()<(13-T)/3.5)return [T,0];
 if(T>44&&R()<(T-44)/2)return [T,0];
 var Wc=T<24?0.8*Ws(T):(T<28?15.1+0.5*(T-24):17.1-0.55*(T-28));
 var sp=Math.min(2.5+0.32*(T-10),9);
 var W=Wc+sp*(R()+R()-1);
 var wm=0.98*Ws(T);
 if(W>wm){if(R()<0.6)return [T,0];W=wm-(W-wm)*0.6;}
 if(W>25.5)W=25.5-(W-25.5);
 return [T,W];},0.7);
})();
</script>
</body></html>
